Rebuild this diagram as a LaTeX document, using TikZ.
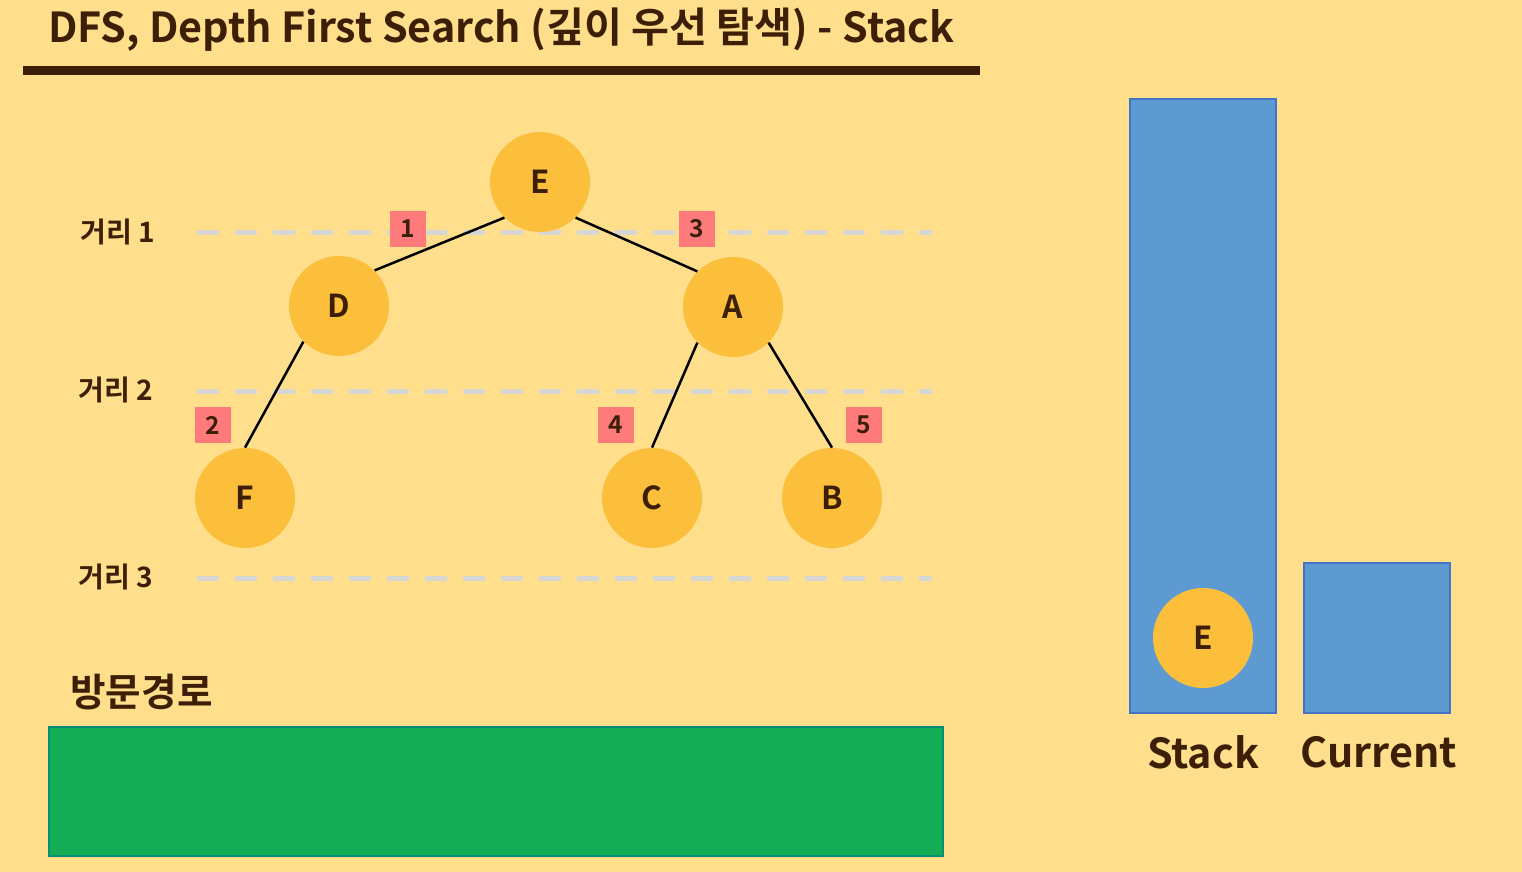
\documentclass[tikz,border=0pt]{standalone}
\usepackage{fontspec}
\setmainfont{Noto Sans CJK KR}[BoldFont={Noto Sans CJK KR Bold}]
\definecolor{bg}{HTML}{FFDF8C}
\definecolor{nodefill}{HTML}{FBBF3C}
\definecolor{ink}{HTML}{3D1F08}
\definecolor{pinkbox}{HTML}{FF7B7B}
\definecolor{bluebox}{HTML}{5E9AD2}
\definecolor{blueedge}{HTML}{4472C4}
\definecolor{greenbox}{HTML}{13AD55}
\definecolor{dashgrey}{HTML}{D6D6D4}
\begin{document}
\begin{tikzpicture}[x=0.02cm,y=-0.02cm,
  vnode/.style={circle,fill=nodefill,minimum size=100*0.02cm,inner sep=0pt,text=ink,font=\fontsize{18}{18}\selectfont\bfseries},
  numbox/.style={fill=pinkbox,minimum size=36*0.02cm,inner sep=0pt,text=ink,font=\fontsize{14}{14}\selectfont\bfseries},
  level/.style={text=ink,font=\fontsize{16}{16}\selectfont\bfseries,inner sep=0pt},
  dist/.style={draw=dashgrey,line width=5*0.02cm,dash pattern=on 22*0.02cm off 16*0.02cm},
  edge/.style={draw=black,line width=2.5*0.02cm},
  bigbox/.style={fill=bluebox,draw=blueedge,line width=1.5*0.02cm},
  caption/.style={text=ink,font=\fontsize{23.5}{23.5}\selectfont\bfseries,inner sep=0pt}]
\fill[bg] (0,0) rectangle (1522,872);
\useasboundingbox (0,0) rectangle (1522,872);
% title
\node[text=ink,font=\fontsize{23.5}{23.5}\selectfont\bfseries,inner sep=0pt,anchor=west] (title) at (48,30) {DFS, Depth First Search (깊이 우선 탐색) - Stack};
\fill[ink] (23,66) rectangle (980,75);
% distance lines
\coordinate (d1s) at (197,232); \coordinate (d1e) at (932,232);
\coordinate (d2s) at (197,391); \coordinate (d2e) at (932,391);
\coordinate (d3s) at (197,578); \coordinate (d3e) at (932,578);
\draw[dist] (d1s) -- (d1e);
\draw[dist] (d2s) -- (d2e);
\draw[dist] (d3s) -- (d3e);
\node[level,anchor=west] (l1) at (80,232) {거리 1};
\node[level,anchor=west] (l2) at (78,390) {거리 2};
\node[level,anchor=west] (l3) at (78,577) {거리 3};
% tree nodes
\node[vnode] (E) at (540,182) {E};
\node[vnode] (D) at (339,306) {D};
\node[vnode] (A) at (733,307) {A};
\node[vnode] (F) at (245,498) {F};
\node[vnode] (C) at (652,498) {C};
\node[vnode] (B) at (832,498) {B};
\draw[edge] (E.225) -- (D.45);
\draw[edge] (E.315) -- (A.135);
\draw[edge] (D.225) -- (F.90);
\draw[edge] (A.225) -- (C.90);
\draw[edge] (A.315) -- (B.90);
% order boxes
\node[numbox] (n1) at (408,229) {1};
\node[numbox] (n3) at (697,229) {3};
\node[numbox] (n2) at (213,425) {2};
\node[numbox] (n4) at (616,425) {4};
\node[numbox] (n5) at (864,425) {5};
% visit path
\node[text=ink,font=\fontsize{22}{22}\selectfont\bfseries,inner sep=0pt,anchor=west] (path) at (70,692) {방문경로};
\draw[fill=greenbox,draw=teal!70!greenbox,line width=1.5*0.02cm] (49,727) rectangle (943,856);
% stack / current
\draw[bigbox] (1130,99) rectangle (1276,713);
\draw[bigbox] (1304,563) rectangle (1450,713);
\node[vnode] (SE) at (1203,638) {E};
\node[caption] (stk) at (1203,752) {Stack};
\node[caption] (cur) at (1379,752) {Current};
\end{tikzpicture}
\end{document}
